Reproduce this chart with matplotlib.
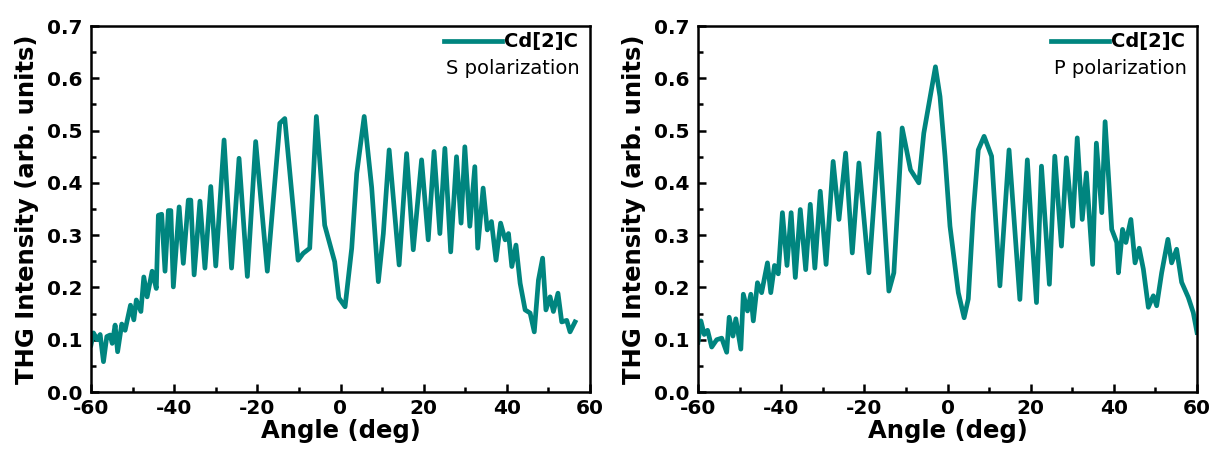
import matplotlib
matplotlib.use("Agg")
import matplotlib.pyplot as plt
from matplotlib.ticker import MultipleLocator

plt.rcParams['font.family'] = ['DejaVu Sans']

# ---- data: S polarization ----
s_angle = [-60, -59.4, -58.5, -57.8, -57.0, -56.2, -55.4, -54.9, -54.2, -53.6, -52.6, -51.8,
           -50.5, -49.7, -49.1, -48.0, -47.3, -46.5, -45.3, -44.3, -43.8, -43.0, -42.2, -41.4,
           -40.8, -40.2, -38.8, -37.8, -36.6, -36.0, -35.2, -33.8, -32.6, -31.2, -30.0, -28.0,
           -26.2, -24.4, -22.4, -20.4, -17.6, -14.6, -13.4, -10.2, -9.0, -7.4, -5.8, -3.8,
           -1.4, -0.4, 1.1, 2.7, 3.9, 5.7, 7.5, 9.1, 10.3, 11.7, 14.1, 15.9, 17.5, 19.5,
           21.1, 22.5, 23.9, 25.1, 26.5, 27.9, 29.0, 29.9, 31.1, 32.3, 33.0, 34.3, 35.3, 36.3,
           37.4, 38.5, 39.6, 40.4, 41.2, 42.2, 43.2, 44.4, 45.6, 46.6, 47.6, 48.6, 49.4, 50.4,
           51.2, 52.3, 53.2, 54.4, 55.2, 56.4]
s_val = [0.09, 0.113, 0.10, 0.11, 0.058, 0.106, 0.109, 0.093, 0.128, 0.077, 0.13, 0.118,
         0.166, 0.138, 0.176, 0.154, 0.22, 0.182, 0.231, 0.198, 0.338, 0.34, 0.231, 0.347,
         0.347, 0.201, 0.354, 0.246, 0.367, 0.367, 0.224, 0.365, 0.237, 0.393, 0.241, 0.482,
         0.237, 0.447, 0.221, 0.479, 0.231, 0.514, 0.523, 0.252, 0.265, 0.275, 0.527, 0.319,
         0.249, 0.18, 0.163, 0.275, 0.418, 0.527, 0.391, 0.211, 0.303, 0.463, 0.243, 0.456,
         0.272, 0.444, 0.291, 0.460, 0.303, 0.466, 0.268, 0.450, 0.323, 0.469, 0.317, 0.431,
         0.275, 0.39, 0.31, 0.326, 0.252, 0.323, 0.291, 0.303, 0.24, 0.281, 0.208, 0.157,
         0.151, 0.115, 0.214, 0.256, 0.157, 0.182, 0.154, 0.189, 0.134, 0.137, 0.115, 0.134]

# ---- data: P polarization ----
p_angle = [-60, -59.3, -58.5, -57.7, -56.7, -55.5, -54.3, -53.1, -52.5, -51.6, -50.9, -49.7,
           -49.1, -48.1, -47.3, -46.7, -45.7, -44.7, -43.3, -42.5, -41.6, -40.7, -39.7, -38.6,
           -37.6, -36.6, -35.4, -34.1, -33.0, -31.9, -30.6, -29.2, -27.5, -26.1, -24.5, -22.9,
           -21.3, -18.9, -16.5, -14.1, -12.9, -10.9, -8.9, -6.9, -5.7, -2.9, -1.8, -0.6, 0.6,
           1.4, 2.6, 4.0, 5.0, 6.2, 7.4, 8.8, 10.6, 12.6, 14.8, 17.4, 19.2, 20.2, 21.4, 22.6,
           24.5, 25.8, 27.4, 28.6, 30.1, 31.2, 32.4, 33.4, 34.9, 35.8, 37.1, 37.9, 39.5, 40.7,
           41.1, 42.1, 42.9, 44.1, 45.1, 46.1, 47.1, 48.3, 49.5, 50.3, 51.5, 53.0, 53.9, 55.1,
           56.3, 57.9, 59.1, 60.0]
p_val = [0.095, 0.136, 0.11, 0.118, 0.086, 0.10, 0.103, 0.076, 0.143, 0.107, 0.14, 0.082,
         0.187, 0.155, 0.187, 0.136, 0.209, 0.19, 0.247, 0.19, 0.242, 0.226, 0.343, 0.242,
         0.343, 0.219, 0.349, 0.234, 0.359, 0.237, 0.384, 0.244, 0.441, 0.33, 0.457, 0.266,
         0.438, 0.228, 0.495, 0.193, 0.228, 0.505, 0.425, 0.40, 0.495, 0.622, 0.565, 0.451,
         0.317, 0.266, 0.19, 0.142, 0.178, 0.343, 0.463, 0.489, 0.451, 0.203, 0.463, 0.177,
         0.444, 0.311, 0.171, 0.432, 0.206, 0.451, 0.279, 0.448, 0.317, 0.486, 0.33, 0.419,
         0.244, 0.476, 0.343, 0.517, 0.311, 0.286, 0.228, 0.311, 0.286, 0.33, 0.247, 0.275,
         0.235, 0.162, 0.184, 0.165, 0.228, 0.292, 0.247, 0.273, 0.21, 0.181, 0.152, 0.114]

series_label = "Cd[2]C"
pol_labels = ["S polarization", "P polarization"]
xticks = [-60, -40, -20, 0, 20, 40, 60]
yticks = [0.0, 0.1, 0.2, 0.3, 0.4, 0.5, 0.6, 0.7]

color = '#00857f'

fig = plt.figure(figsize=(12.11, 4.57), dpi=100)
W, H = 1211, 457
axes_px = [(91, 590), (698, 1197)]
top_px, bot_px = 26, 392
aw, ah = 499, bot_px - top_px

datasets = [(s_angle, s_val), (p_angle, p_val)]
for (l, r), (xa, ya), pl in zip(axes_px, datasets, pol_labels):
    ax = fig.add_axes([l / W, 1 - bot_px / H, (r - l) / W, ah / H])
    ax.plot(xa, ya, color=color, lw=3.4, solid_joinstyle='round', label=series_label)
    ax.set_xlim(-60, 60)
    ax.set_ylim(0, 0.7)
    ax.set_xticks(xticks)
    ax.set_yticks(yticks)
    ax.xaxis.set_minor_locator(MultipleLocator(10))
    ax.yaxis.set_minor_locator(MultipleLocator(0.05))
    ax.set_xticklabels([str(t) for t in xticks])
    ax.set_yticklabels([f"{t:.1f}" for t in yticks])
    ax.tick_params(which='both', direction='in', top=False, right=False, width=1.8)
    ax.tick_params(which='major', length=6, labelsize=14.5)
    ax.tick_params(axis='x', which='major', pad=5)
    ax.tick_params(axis='y', which='major', pad=6)
    ax.tick_params(which='minor', length=3.5)
    for lab in ax.get_xticklabels() + ax.get_yticklabels():
        lab.set_fontweight('bold')
    for sp in ax.spines.values():
        sp.set_linewidth(1.8)
    ax.set_xlabel("Angle (deg)", fontsize=17.5, fontweight='bold', labelpad=1)
    ax.set_ylabel("THG Intensity (arb. units)", fontsize=17.5, fontweight='bold', labelpad=6)
    leg = ax.legend(loc='center right', bbox_to_anchor=(1 - 12 / aw, 1 - 16 / ah),
                    frameon=False, fontsize=14, handlelength=3.0,
                    handletextpad=0.1, borderaxespad=0, borderpad=0)
    for t in leg.get_texts():
        t.set_fontweight('bold')
    ax.text(1 - 10 / aw, 1 - 42 / ah, pl, transform=ax.transAxes, ha='right',
            va='center', fontsize=14)

fig.savefig("out.png", dpi=100)
